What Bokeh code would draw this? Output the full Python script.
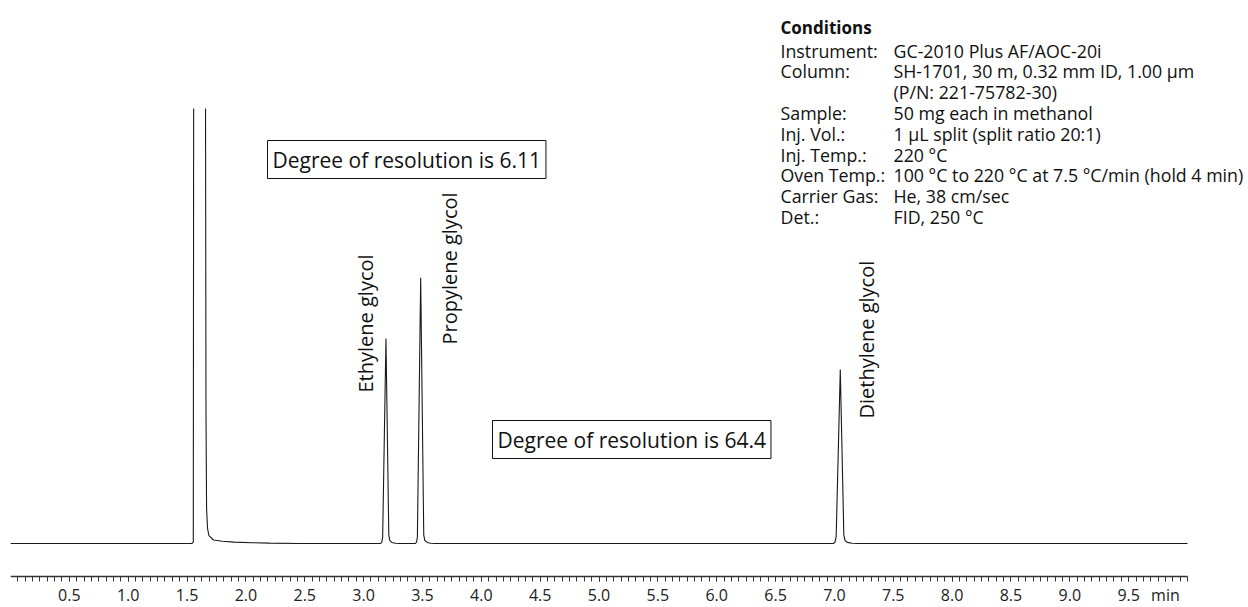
import math
from bokeh.plotting import figure
from bokeh.models import Label, FixedTicker, Range1d, NumeralTickFormatter
from bokeh.embed import file_html
from bokeh.resources import INLINE

NAN = float("nan")

# ---------------- data ----------------
# retention time (min) and detector signal (relative units, 100 = top of the displayed scale;
# the solvent peak is off-scale, its top is not shown -> NaN)
trace_time = [0.0, 1.540, 1.553, 1.556, 1.606, 1.657, 1.661, 1.666, 1.674, 1.686, 1.725, 1.80, 1.90, 2.05, 2.20, 2.45,
              3.145, 3.155, 3.162, 3.19, 3.214, 3.222, 3.24, 3.27, 3.30,
              3.440, 3.450, 3.457, 3.485, 3.511, 3.520, 3.540, 3.570, 3.61,
              6.99, 7.005, 7.015, 7.05, 7.08, 7.09, 7.11, 7.15, 7.20,
              10.0]
trace_signal = [0.0, 0.0, 0.3, 100.0, NAN, 100.0, 30.0, 8.0, 3.5, 1.8, 0.8, 0.5, 0.32, 0.18, 0.08, 0.0,
                0.0, 0.3, 1.5, 47.1, 2.0, 0.7, 0.25, 0.05, 0.0,
                0.0, 0.3, 1.5, 61.1, 2.0, 0.7, 0.25, 0.05, 0.0,
                0.0, 0.3, 1.5, 40.0, 2.0, 0.7, 0.25, 0.05, 0.0,
                0.0]

peak_names = ["Ethylene glycol", "Propylene glycol", "Diethylene glycol"]
peak_rt = [3.19, 3.485, 7.05]
peak_height = [47.1, 61.1, 40.0]

resolution_texts = ["Degree of resolution is 6.11", "Degree of resolution is 64.4"]

cond_title = "Conditions"
cond_keys = ["Instrument:", "Column:", "", "Sample:", "Inj. Vol.:", "Inj. Temp.:",
             "Oven Temp.:", "Carrier Gas:", "Det.:"]
cond_vals = ["GC-2010 Plus AF/AOC-20i", "SH-1701, 30 m, 0.32 mm ID, 1.00 µm", "(P/N: 221-75782-30)",
             "50 mg each in methanol", "1 µL split (split ratio 20:1)", "220 °C",
             "100 °C to 220 °C at 7.5 °C/min (hold 4 min)", "He, 38 cm/sec", "FID, 250 °C"]

major_ticks = [0.5, 1.0, 1.5, 2.0, 2.5, 3.0, 3.5, 4.0, 4.5, 5.0, 5.5, 6.0, 6.5, 7.0, 7.5, 8.0, 8.5, 9.0, 9.5]
unit_tick = 9.8125
unit_label = "min"
minor_step = 0.0625
axis_end = 10.0

# ---------------- layout helpers ----------------
FONT = "Open Sans"
FIG_W, FIG_H = 1248, 607
LEFT = 10                  # frame left in pixels
PX_PER_MIN = 117.7
PX_PER_UNIT = 4.35
BASE_Y = 543               # pixel row of signal 0
X_END = (FIG_W - LEFT) / PX_PER_MIN
Y_END = BASE_Y / PX_PER_UNIT
Y_START = Y_END - FIG_H / PX_PER_UNIT


def t_at(px):
    return (px - LEFT) / PX_PER_MIN


def v_at(py):
    return (BASE_Y - py) / PX_PER_UNIT


p = figure(width=FIG_W, height=FIG_H, x_range=Range1d(0, X_END), y_range=Range1d(Y_START, Y_END),
           toolbar_location=None, output_backend="svg",
           min_border_left=LEFT, min_border_right=0, min_border_top=0, min_border_bottom=0,
           outline_line_color=None)
p.grid.visible = False
p.yaxis.visible = False

ax = p.xaxis[0]
ax.fixed_location = v_at(576)
ax.bounds = (0, axis_end)
ax.ticker = FixedTicker(ticks=major_ticks + [unit_tick],
                        minor_ticks=[k * minor_step for k in range(1, int(axis_end / minor_step) + 1)])
ax.formatter = NumeralTickFormatter(format="0.0")
ax.major_label_overrides = {unit_tick: unit_label}
ax.axis_line_color = "#333333"
ax.axis_line_width = 1.4
ax.major_tick_line_color = "#333333"
ax.minor_tick_line_color = "#333333"
ax.major_tick_out = 5
ax.major_tick_in = 0
ax.minor_tick_out = 5
ax.minor_tick_in = 0
ax.major_label_text_font = FONT
ax.major_label_text_font_size = "16px"
ax.major_label_text_color = "#222222"
ax.major_label_standoff = 2

p.line(trace_time, trace_signal, line_color="#1a1a1a", line_width=1.1)

# peak labels (rotated)
label_dx = [-20, 29, 26]      # pixels from the peak apex
label_bottom = [392, 344, 418]
for name, rt, dx, bottom in zip(peak_names, peak_rt, label_dx, label_bottom):
    p.add_layout(Label(x=rt + dx / PX_PER_MIN, y=v_at(bottom), text=name, angle=math.pi / 2,
                       text_align="left", text_baseline="middle", text_font=FONT,
                       text_font_size="20px", text_color="#111111"))

# resolution boxes
box_pos = [(267, 159), (492, 439)]
for txt, (bx, by) in zip(resolution_texts, box_pos):
    p.add_layout(Label(x=t_at(bx), y=v_at(by), text=txt, text_align="left", text_baseline="middle",
                       text_font=FONT, text_font_size="21px", text_color="#111111",
                       border_line_color="#111111", border_line_width=1,
                       background_fill_color="white", padding=5))

# conditions block
p.add_layout(Label(x=t_at(780), y=v_at(27), text=cond_title, text_align="left",
                   text_baseline="alphabetic", text_font=FONT, text_font_size="17px",
                   text_font_style="bold", text_color="#111111"))
for i, (k, v) in enumerate(zip(cond_keys, cond_vals)):
    yy = v_at(50 + 20.8 * i)
    if k:
        p.add_layout(Label(x=t_at(780), y=yy, text=k, text_align="left", text_baseline="alphabetic",
                           text_font=FONT, text_font_size="17.8px", text_color="#111111"))
    p.add_layout(Label(x=t_at(893), y=yy, text=v, text_align="left", text_baseline="alphabetic",
                       text_font=FONT, text_font_size="17.8px", text_color="#111111"))

open("out.html", "w").write(file_html(p, INLINE))
